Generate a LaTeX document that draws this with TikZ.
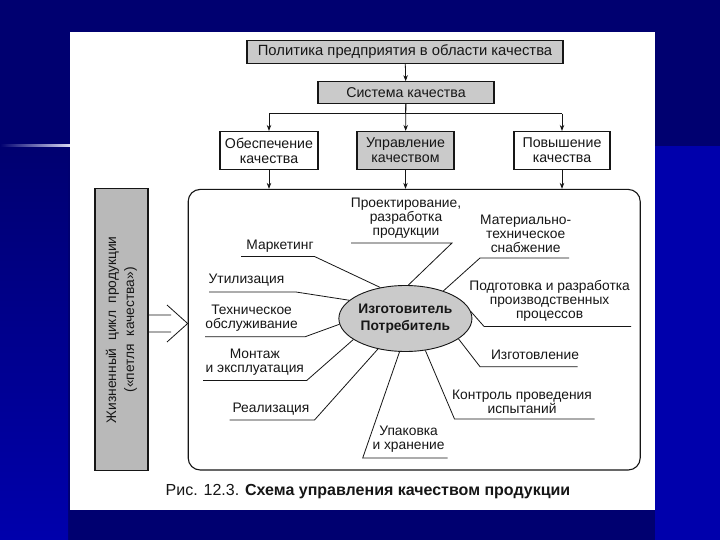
\documentclass[tikz,border=0pt]{standalone}
\usepackage{fontspec}
\setmainfont{Liberation Sans}
\usetikzlibrary{arrows.meta, shapes.geometric}
\definecolor{navy}{RGB}{0,0,112}
\definecolor{royal}{RGB}{0,0,172}
\definecolor{ink}{RGB}{22,22,22}
\definecolor{shade}{RGB}{202,202,202}
\definecolor{darkshade}{RGB}{185,185,185}

\begin{document}
\begin{tikzpicture}[x=1pt, y=-1pt,
  box/.style={draw=ink, line width=1.1pt, fill=white, text=ink,
              font=\fontsize{14.2}{15}\selectfont, minimum height=38pt, align=center, inner sep=0pt},
  gbox/.style={box, fill=shade},
  arrow/.style={-{Stealth[length=6pt, width=4.5pt]}, ink, line width=0.8pt},
  spoke/.style={ink, line width=0.8pt},
  lbl/.style={font=\fontsize{13.8}{14}\selectfont, align=center, text=ink, inner sep=0pt},
]
  \useasboundingbox (0,0) rectangle (720,540);
  % slide background
  \fill[navy] (0,0) rectangle (720,540);
  \fill[royal] (655,146) rectangle (720,540);
  \shade[top color=navy, bottom color=royal] (0,146) rectangle (68,540);
  \shade[left color=navy, right color=white!85!royal] (0,144.5) rectangle (70,146.5);
  \fill[white] (70,32) rectangle (655,510);

  % top chain
  \node[gbox, minimum width=316pt, minimum height=22.5pt, font=\fontsize{14.8}{15}\selectfont]
    (policy) at (405,52) {Политика предприятия в области качества};
  \node[gbox, minimum width=176pt, minimum height=21.5pt] (sys) at (406,92.5)
    {Система качества};
  \node[box, minimum width=98pt] (ensure) at (269,150.5) {Обеспечение\\качества};
  \node[gbox, minimum width=97pt] (manage) at (405.5,150.5) {Управление\\качеством};
  \node[box, minimum width=96pt] (raise) at (562,150.5) {Повышение\\качества};
  \coordinate (bus) at (405.5,113.6);

  % life cycle frame
  \node[draw=ink, line width=1.1pt, rounded corners=12pt, minimum width=452pt,
        minimum height=280.6pt] (cycle) at (414.2,329.7) {};
  \node[draw=ink, line width=1.1pt, fill=darkshade, minimum width=53pt,
        minimum height=282pt] (life) at (121.5,329.8) {};
  \node[lbl, rotate=90, font=\fontsize{13.8}{18}\selectfont] at (life)
    {Жизненный\ \ цикл\ \ продукции\\(«петля\ \ качества»)};
  \coordinate (tip) at (cycle.west |- 0,323.5);

  \draw[arrow] (policy) -- (sys);
  \draw[ink, line width=0.8pt] (sys) -- (bus);
  \draw[ink, line width=0.8pt] (bus -| ensure) -- (bus -| raise);
  \draw[arrow] (bus -| ensure) -- (ensure);
  \draw[arrow] (sys) -- (manage);
  \draw[arrow] (bus -| raise) -- (raise);
  \draw[arrow] (ensure) -- (ensure |- cycle.north);
  \draw[arrow] (manage) -- (manage |- cycle.north);
  \draw[arrow] (raise) -- (raise |- cycle.north);
  \draw[ink, line width=0.8pt] (life.east |- 0,315) -- (171,315)
    (life.east |- 0,332) -- (171,332) (167,305) -- (tip) -- (167,342);

  % centre
  \node[ellipse, draw=ink, line width=0.9pt, fill=shade, minimum width=132pt,
        minimum height=66pt, inner sep=0pt, align=center, text=ink,
        font=\fontsize{13.8}{17}\selectfont\bfseries] (maker) at (405.4,318.5)
    {Изготовитель\\Потребитель};

  % stages of the loop
  \node[lbl] (proj) at (406,218) {Проектирование,\\разработка\\продукции};
  \coordinate (proj-in) at (452,243);   \coordinate (proj-out) at (351,243);
  \node[lbl] (mat) at (525.7,234) {Материально-\\техническое\\снабжение};
  \coordinate (mat-in) at (480,258);    \coordinate (mat-out) at (569,258);
  \node[lbl] (mark) at (280,246) {Маркетинг};
  \coordinate (mark-in) at (314.5,256.5); \coordinate (mark-out) at (241,256.5);
  \node[lbl] (util) at (246.5,280) {Утилизация};
  \coordinate (util-in) at (296,292);   \coordinate (util-out) at (209,292);
  \node[lbl] (tech) at (251.6,318.5) {Техническое\\обслуживание};
  \coordinate (tech-in) at (305,336.8); \coordinate (tech-out) at (205,336.8);
  \node[lbl] (mont) at (254.8,362) {Монтаж\\и эксплуатация};
  \coordinate (mont-in) at (306.7,380.5); \coordinate (mont-out) at (203,380.5);
  \node[lbl] (real) at (271,409) {Реализация};
  \coordinate (real-in) at (314.5,420); \coordinate (real-out) at (229.6,420);
  \node[lbl] (pack) at (408.6,439.3) {Упаковка\\и хранение};
  \coordinate (pack-in) at (362.7,458); \coordinate (pack-out) at (447.7,458);
  \node[lbl] (ctrl) at (522,402) {Контроль проведения\\испытаний};
  \coordinate (ctrl-in) at (454.5,419); \coordinate (ctrl-out) at (594.6,419);
  \node[lbl] (make) at (535,355) {Изготовление};
  \coordinate (make-in) at (480,366.7); \coordinate (make-out) at (577.6,366.7);
  \node[lbl] (prep) at (549.6,301.3) {Подготовка и разработка\\производственных\\процессов};
  \coordinate (prep-in) at (484,326.4); \coordinate (prep-out) at (631,326.4);

  \foreach \n/\ang in {proj/85, mat/36, mark/129, util/162, tech/185, mont/202,
                       real/228, pack/260, ctrl/302, make/339, prep/6}
    \draw[spoke] (maker.\ang) -- (\n-in) -- (\n-out);

  \node[lbl, font=\fontsize{16}{18}\selectfont] (caption) at (368,491.7)
    {Рис. 12.3. \textbf{Схема управления качеством продукции}};
\end{tikzpicture}
\end{document}
